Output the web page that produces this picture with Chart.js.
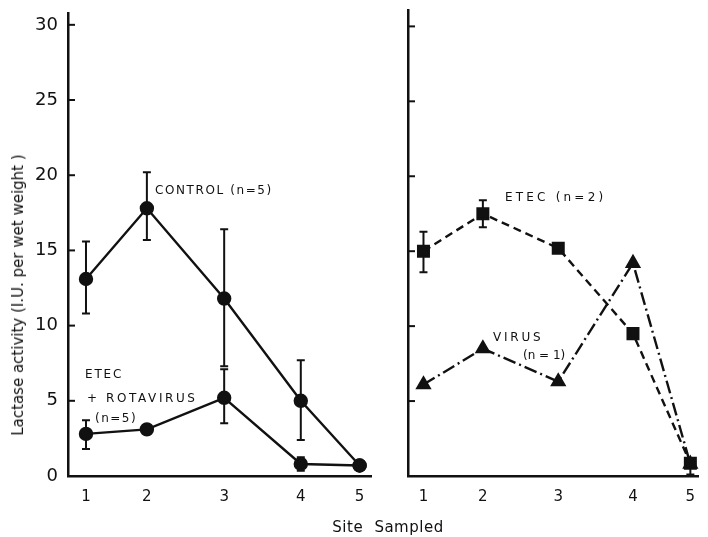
<!DOCTYPE html>
<html><head><meta charset="utf-8">
<script src="https://cdn.jsdelivr.net/npm/chart.js@4.4.1/dist/chart.umd.min.js"></script>
<style>
html,body{margin:0;padding:0;background:#fff;}
#wrap{position:relative;width:708px;height:537px;overflow:hidden;font-family:"DejaVu Sans",sans-serif;color:#111;}
canvas{position:absolute;top:0;}
.lbl{position:absolute;font-size:12px;white-space:nowrap;line-height:12px;}
</style></head><body>
<div id="wrap">
<canvas id="left" width="380" height="537" style="left:0"></canvas>
<canvas id="right" width="328" height="537" style="left:380px"></canvas>
<div style="position:absolute;left:18px;top:295px;transform:translate(-50%,-50%) rotate(-90deg);font-size:15px;white-space:nowrap;">Lactase activity (I.U. per wet weight )</div>
<div style="position:absolute;left:388px;top:527px;transform:translate(-50%,-50%);font-size:15px;word-spacing:6px;letter-spacing:0.5px;white-space:nowrap;">Site Sampled</div>
<div class="lbl" style="left:155px;top:184px;letter-spacing:1.6px">CONTROL (n=5)</div>
<div class="lbl" style="left:85px;top:368px;letter-spacing:1.8px">ETEC</div>
<div class="lbl" style="left:87px;top:392px;letter-spacing:2.6px">+ ROTAVIRUS</div>
<div class="lbl" style="left:95px;top:412px;letter-spacing:1.5px">(n=5)</div>
<div class="lbl" style="left:505px;top:191px;letter-spacing:3.2px">ETEC (n=2)</div>
<div class="lbl" style="left:493px;top:331px;letter-spacing:2.8px">VIRUS</div>
<div class="lbl" style="left:523px;top:349px">(n = 1)</div>
</div>
<script>
const sites = ['1','2','3','4','5'];
const sitePositions = [1, 1.89, 3.02, 4.14, 5];
const yTicks = [0, 5, 10, 15, 20, 25, 30];

const controlMean = [13.1, 17.8, 11.8, 5.0, 0.7];
const controlHigh = [15.6, 20.2, 16.4, 7.7, null];
const controlLow  = [10.8, 15.7, 7.3, 2.4, null];

const etecRotaMean = [2.8, 3.1, 5.2, 0.8, 0.7];
const etecRotaHigh = [3.7, null, 7.1, 1.25, null];
const etecRotaLow  = [1.8, null, 3.5, 0.35, null];

const etecMean = [15.0, 17.5, 15.2, 9.5, 0.85];
const etecHigh = [16.3, 18.4, null, null, null];
const etecLow  = [13.6, 16.6, null, null, 0.1];

const virusMean = [6.1, 8.5, 6.3, 14.2, 0.8];

const toPts = arr => arr.map((v, i) => ({x: sitePositions[i], y: v}));

const errorBars = {
  id: 'errorBars',
  beforeDatasetsDraw(chart) {
    const ctx = chart.ctx, xs = chart.scales.x, ys = chart.scales.y;
    chart.data.datasets.forEach(ds => {
      if (!ds.errHigh) return;
      ds.errHigh.forEach((hi, i) => {
        const lo = ds.errLow[i];
        if (hi == null && lo == null) return;
        const m = ds.data[i].y;
        const x = xs.getPixelForValue(sitePositions[i]);
        const y1 = ys.getPixelForValue(hi == null ? m : hi);
        const y2 = ys.getPixelForValue(lo == null ? m : lo);
        ctx.save();
        ctx.strokeStyle = '#111'; ctx.lineWidth = 2; ctx.setLineDash([]);
        ctx.beginPath(); ctx.moveTo(x, y1); ctx.lineTo(x, y2);
        if (hi != null) { ctx.moveTo(x - 4, y1); ctx.lineTo(x + 4, y1); }
        if (lo != null) { ctx.moveTo(x - 4, y2); ctx.lineTo(x + 4, y2); }
        ctx.stroke(); ctx.restore();
      });
    });
  }
};

const inwardTicks = {
  id: 'inwardTicks',
  afterDraw(chart) {
    const ctx = chart.ctx, ys = chart.scales.y, a = chart.chartArea;
    ctx.save(); ctx.strokeStyle = '#111'; ctx.lineWidth = 2;
    yTicks.forEach(v => {
      if (v === 0) return;
      const y = ys.getPixelForValue(v);
      ctx.beginPath(); ctx.moveTo(a.left, y); ctx.lineTo(a.left + 7, y); ctx.stroke();
    });
    ctx.restore();
  }
};

function makeChart(id, datasets, opts) {
  return new Chart(document.getElementById(id), {
    type: 'line',
    data: { datasets },
    plugins: [errorBars, inwardTicks],
    options: {
      responsive: false, animation: false,
      layout: { padding: { top: opts.top, right: opts.right, left: 0, bottom: 0 } },
      plugins: { legend: { display: false }, tooltip: { enabled: false } },
      scales: {
        x: {
          type: 'linear', min: opts.xmin, max: opts.xmax,
          afterBuildTicks: s => { s.ticks = sitePositions.map(v => ({ value: v })); },
          afterFit: s => { s.height = 61; },
          grid: { display: false },
          border: { display: true, color: '#111', width: 2.5 },
          ticks: { callback: (v, i) => sites[i], color: '#111', padding: 4, maxRotation: 0,
                   font: { family: 'DejaVu Sans', size: 15 } }
        },
        y: {
          min: 0, max: opts.ymax,
          afterBuildTicks: s => { s.ticks = yTicks.map(v => ({ value: v })); },
          afterFit: s => { s.width = opts.yw; },
          grid: { display: false },
          border: { display: true, color: '#111', width: 2.5 },
          ticks: { display: opts.yLabels, color: '#111', padding: 2,
                   font: { family: 'DejaVu Sans', size: 18 } }
        }
      }
    }
  });
}

const common = { borderColor: '#111', backgroundColor: '#111', borderWidth: 2.4, tension: 0, clip: false,
                 pointBorderColor: '#111', pointBackgroundColor: '#111' };

makeChart('left', [
  Object.assign({}, common, { label: 'CONTROL (n=5)', data: toPts(controlMean), errHigh: controlHigh, errLow: controlLow,
    pointStyle: 'circle', pointRadius: 6 }),
  Object.assign({}, common, { label: 'ETEC + ROTAVIRUS (n=5)', data: toPts(etecRotaMean), errHigh: etecRotaHigh, errLow: etecRotaLow,
    pointStyle: 'circle', pointRadius: 6 })
], { top: 10, right: 8, xmin: 0.737, xmax: 5.175, ymax: 30.8, yw: 68, yLabels: true });

makeChart('right', [
  Object.assign({}, common, { label: 'ETEC (n=2)', data: toPts(etecMean), errHigh: etecHigh, errLow: etecLow,
    borderDash: [8, 5], pointStyle: 'rect', pointRadius: 7.5 }),
  Object.assign({}, common, { label: 'VIRUS (n=1)', data: toPts(virusMean),
    borderDash: [13, 4, 2, 4], pointStyle: 'triangle', pointRadius: 7 })
], { top: 5, right: 0, xmin: 0.768, xmax: 5.116, ymax: 31.1, yw: 28, yLabels: false });
</script>
</body></html>
